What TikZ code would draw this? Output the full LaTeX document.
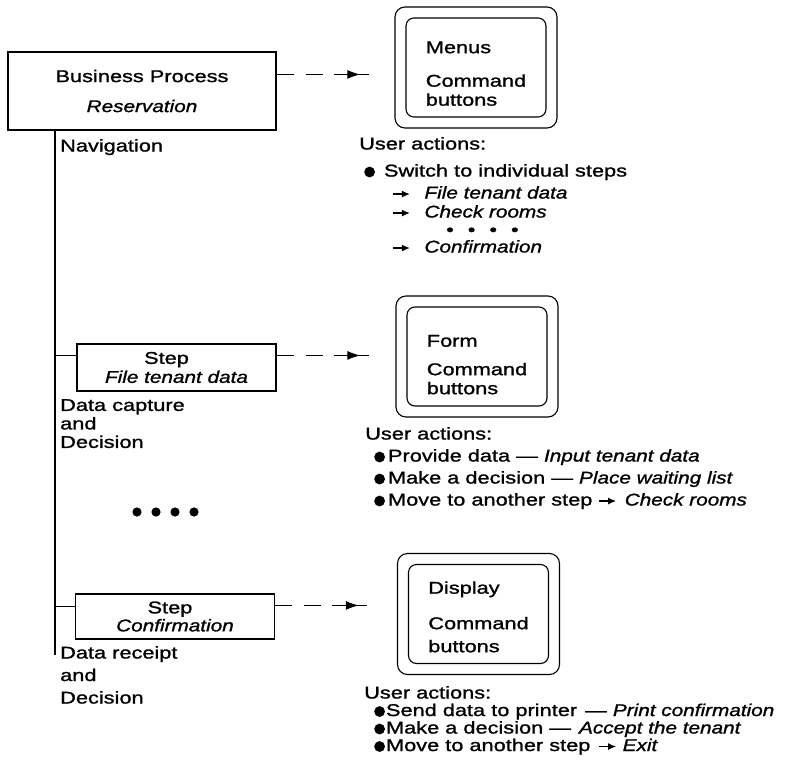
\documentclass[tikz,border=0pt]{standalone}
\usepackage{fontspec}
\setmainfont{Liberation Sans}[UprightFeatures={FakeStretch=1.28,FakeBold=1.2},ItalicFeatures={FakeStretch=1.22,FakeBold=1.2}]
\usetikzlibrary{arrows.meta,decorations.markings}

\newcommand\actdot{\tikz[baseline=-4.5pt]\fill (0,0) circle (5.4pt);}
\newcommand\actto{\tikz[baseline=-4.5pt]\draw[line width=1.3pt,-{Latex[length=8pt,width=7pt]}] (0,0) -- (17pt,0);}

\begin{document}
\begin{tikzpicture}[x=1pt,y=-1pt]
\tikzstyle{every node}=[font=\fontsize{17}{19}\selectfont, inner sep=0pt]
\tikzstyle{wire}=[line width=1.1pt]
\tikzstyle{process}=[draw, wire, align=center, minimum width=268pt, minimum height=78pt]
\tikzstyle{stepbox}=[draw, wire, align=center, minimum width=199pt, minimum height=47pt]
\tikzstyle{screen}=[
  draw, wire,
  rounded corners=10pt,
  minimum width=162pt, minimum height=121pt,
  align=left,
  path picture={\draw[line width=1.1pt, rounded corners=8pt]
    ([shift={(11pt,-11pt)}]path picture bounding box.north west) rectangle
    ([shift={(-11pt,11pt)}]path picture bounding box.south east);} ]
\tikzstyle{link}=[
  wire,
  dash pattern=on 17pt off 12pt on 17pt off 11pt on 60pt off 0pt,
  postaction={decorate},
  decoration={markings, mark=at position 0.91 with {\arrow{Latex[length=13pt,width=9pt]}}} ]
\tikzstyle{actions}=[anchor=north west, align=left]
\useasboundingbox (0,0) rectangle (794,767);

% process and its steps
\node[process] (bp) at (142,91) {Business Process\\[11pt]\textit{Reservation}};
\node[stepbox] (step1) at (176.5,367.5) {Step\hspace*{20pt}\\\textit{File tenant data}};
\node[stepbox, minimum height=45pt] (step2) at (175,616.5) {Step\hspace*{10pt}\\[-1pt]\textit{Confirmation}};

\coordinate (navend) at (55,655);
\coordinate (s1) at ([yshift=-12pt]step1.north west);
\coordinate (s2) at ([yshift=-13pt]step2.north west);
\draw[wire] (bp.south -| navend) -- (navend);
\draw[wire] (s1 -| navend) -- (s1);
\draw[wire] (s2 -| navend) -- (s2);

\node[anchor=north west] (nav) at (60,139) {Navigation};
\node[anchor=north west, align=left, font=\fontsize{17}{18.5}\selectfont] (capture) at (60,399)
  {Data capture\\and\\Decision};
\node[anchor=north west, align=left, font=\fontsize{17}{22.5}\selectfont] (receipt) at (60,646)
  {Data receipt\\and\\Decision};
\foreach \i in {0,...,3}
  \fill (137+19*\i,512) circle (4.6pt);

% screens
\node[screen] (menus) at (476,67.5) {\rule{0pt}{24pt}Menus\\[14.5pt]Command\\buttons};
\node[screen] (form) at (477,356.5) {\rule{0pt}{28pt}Form\\[9.5pt]Command\\buttons};
\node[screen] (display) at (478.5,614) {\rule{0pt}{18pt}Display\\[16.5pt]Command\\[4pt]buttons};

\draw[link] ([yshift=-23pt]bp.north east) -- ++(92,0);
\draw[link] ([yshift=-12pt]step1.north east) -- ++(92,0);
\draw[link] ([yshift=-12pt]step2.north east) -- ++(92,0);

% user actions
\node[actions] (acts1) at (359,137) {User actions:\\[8pt]
  \hspace*{5pt}\actdot\hspace{9pt}Switch to individual steps\\[3pt]
  \hspace*{33pt}\actto\hspace{14pt}\textit{File tenant data}\\
  \hspace*{33pt}\actto\hspace{14pt}\textit{Check rooms}\\[-1pt]
  \hspace*{87pt}\textbullet\hspace{14pt}\textbullet\hspace{14pt}\textbullet\hspace{14pt}\textbullet\\[-2pt]
  \hspace*{33pt}\actto\hspace{14pt}\textit{Confirmation}};
\node[actions, font=\fontsize{17}{22}\selectfont] (acts2) at (365,427) {User actions:\\
  \hspace*{9pt}\actdot\hspace{3pt}Provide data — \textit{Input tenant data}\\
  \hspace*{9pt}\actdot\hspace{3pt}Make a decision — \textit{Place waiting list}\\
  \hspace*{9pt}\actdot\hspace{3pt}Move to another step \actto\hspace{8pt}\textit{Check rooms}};
\node[actions, font=\fontsize{17}{17.5}\selectfont] (acts3) at (364,686) {User actions:\\
  \hspace*{10pt}\actdot\hspace{1pt}Send data to printer\hspace{8pt}— \textit{Print confirmation}\\
  \hspace*{10pt}\actdot\hspace{1pt}Make a decision —\hspace{8pt}\textit{Accept the tenant}\\
  \hspace*{10pt}\actdot\hspace{1pt}Move to another step\hspace{8pt}\actto\hspace{6pt}\textit{Exit}};
\end{tikzpicture}
\end{document}
